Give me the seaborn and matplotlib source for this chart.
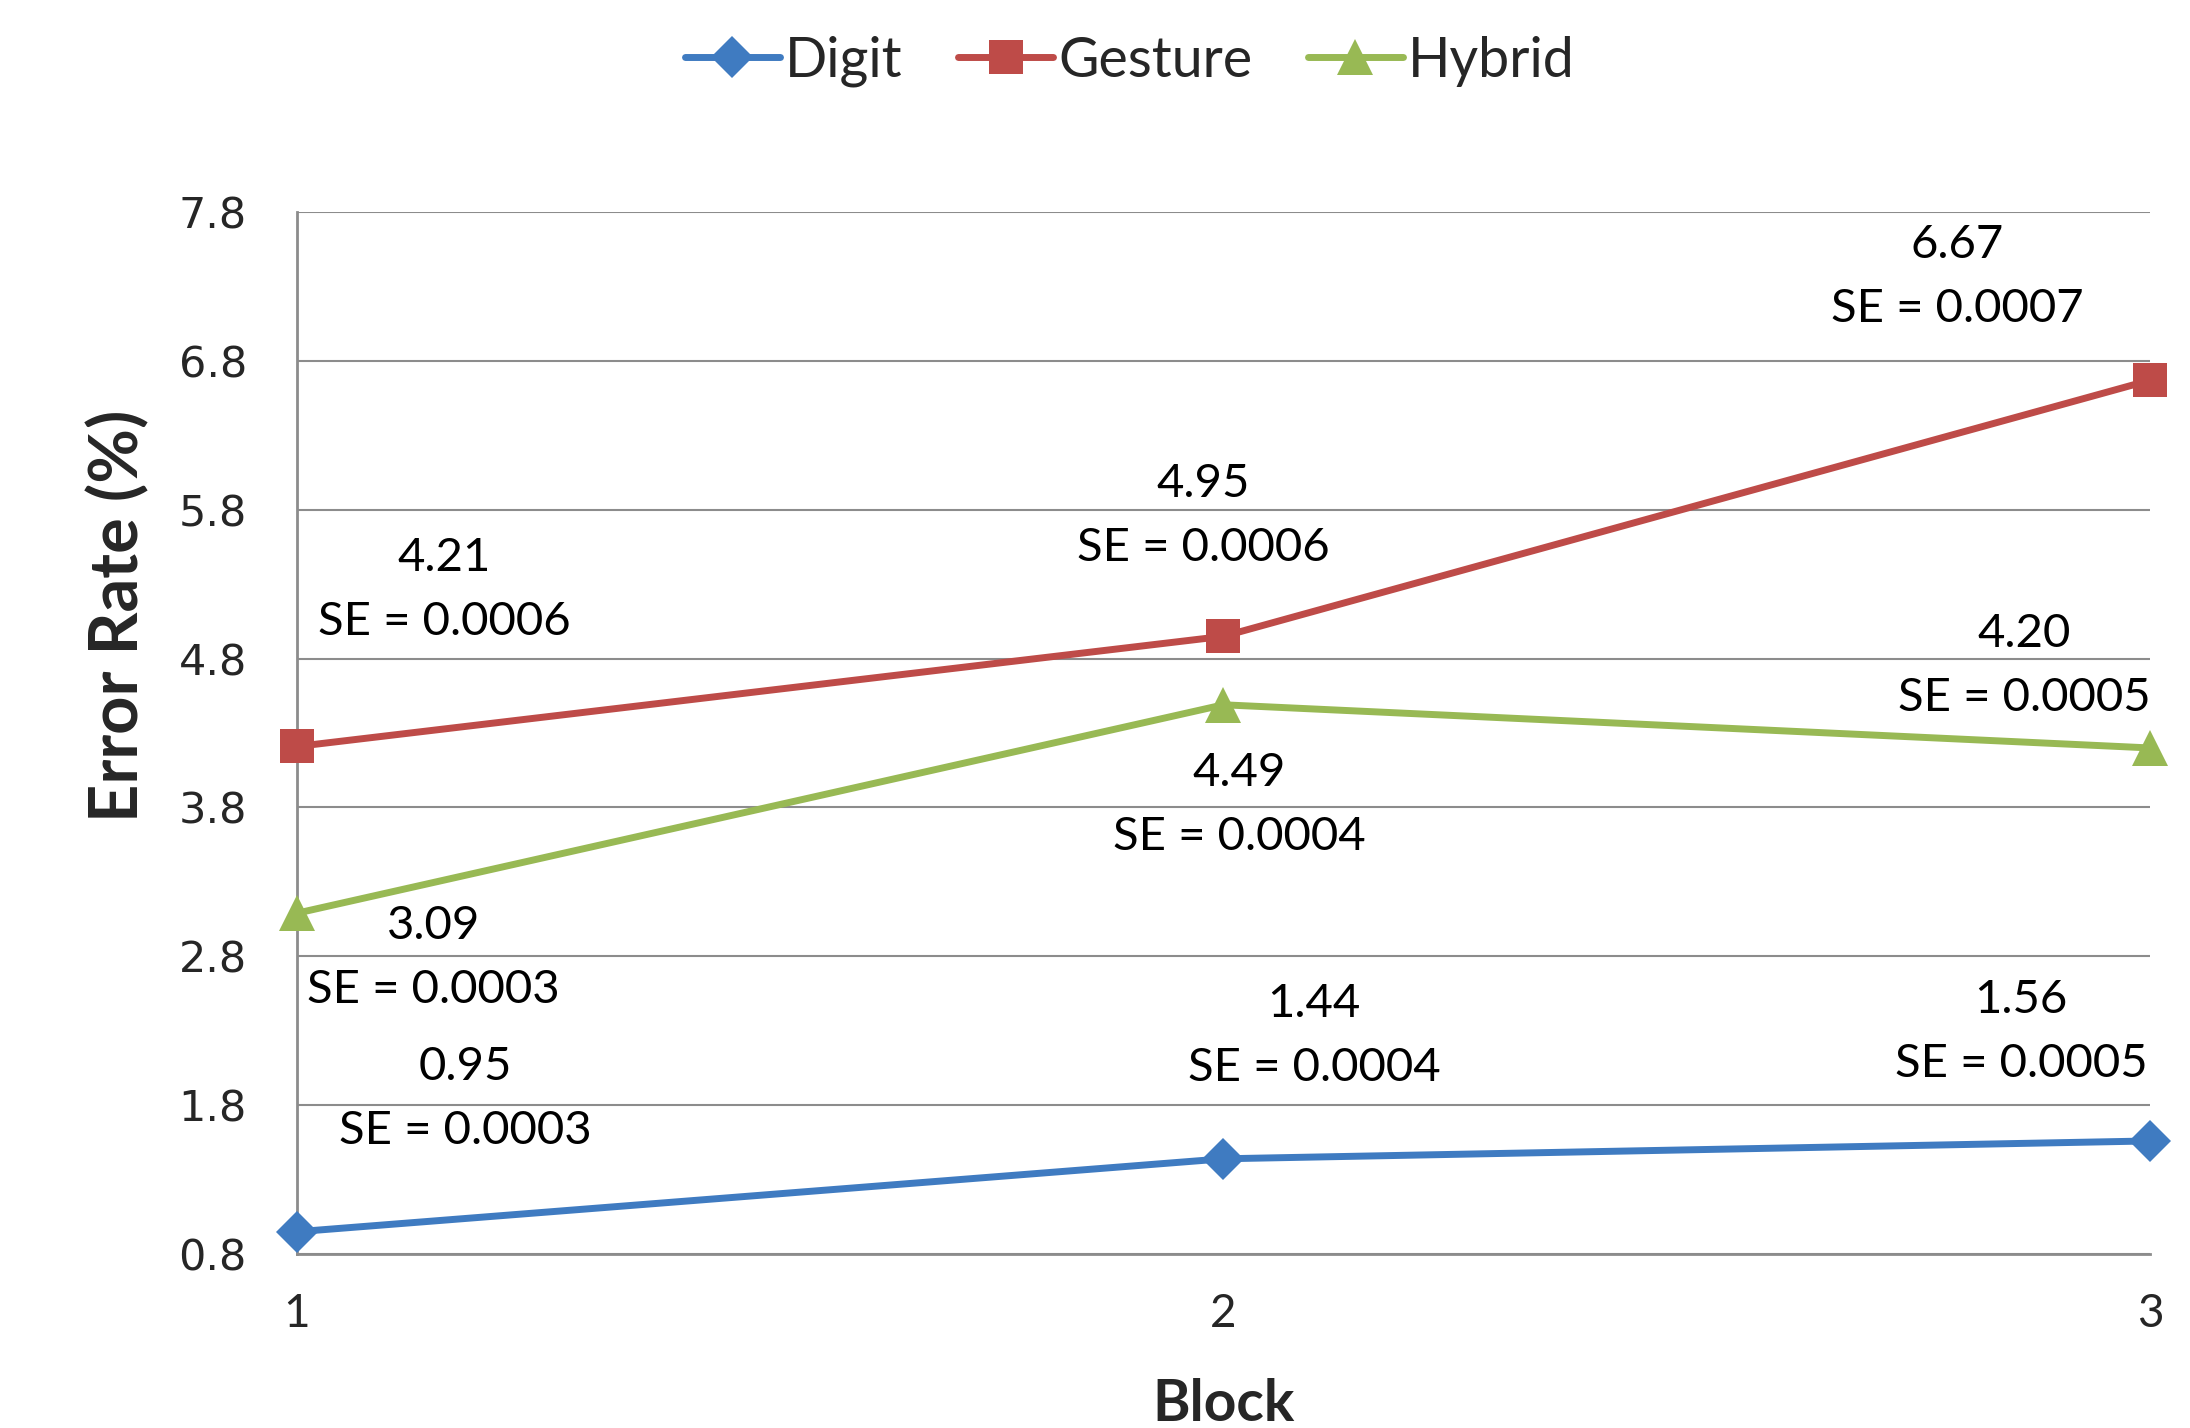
import matplotlib
matplotlib.use("Agg")
import matplotlib.pyplot as plt
import seaborn as sns
import pandas as pd
from matplotlib.lines import Line2D

blocks = [1, 2, 3]
digit = [0.95, 1.44, 1.56]
gesture = [4.21, 4.95, 6.67]
hybrid = [3.09, 4.49, 4.20]
digit_se = ["0.0003", "0.0004", "0.0005"]
gesture_se = ["0.0006", "0.0006", "0.0007"]
hybrid_se = ["0.0003", "0.0004", "0.0005"]
series_names = ["Digit", "Gesture", "Hybrid"]
y_ticks = [0.8, 1.8, 2.8, 3.8, 4.8, 5.8, 6.8, 7.8]

# label offsets (data units) relative to each point
digit_off = [(0.182, 0.89), (0.098, 0.827), (-0.139, 0.734)]
gesture_off = [(0.159, 1.05), (-0.022, 0.806), (-0.208, 0.695)]
hybrid_off = [(0.147, -0.299), (0.017, -0.675), (-0.136, 0.552)]

colors = {"Digit": "#3F7BC1", "Gesture": "#BE4B48", "Hybrid": "#98B954"}
markers = {"Digit": "D", "Gesture": "s", "Hybrid": "^"}
msizes = {"Digit": 21, "Gesture": 24, "Hybrid": 26}

sns.set_theme(style="white")
plt.rcParams["font.family"] = ["DejaVu Sans"]

df = pd.DataFrame({
    "Block": blocks * 3,
    "Error": digit + gesture + hybrid,
    "Series": [s for s in series_names for _ in blocks],
})

fig = plt.figure(figsize=(21.9, 14.28), dpi=100)
ax = fig.add_axes([0.1356, 0.1218, 0.8461, 0.7297])

sns.lineplot(data=df, x="Block", y="Error", hue="Series", style="Series",
             markers=markers, dashes=False, palette=colors, ax=ax,
             linewidth=5, markersize=20, markeredgewidth=0, legend=False)
inv = {v: k for k, v in markers.items()}
for line in ax.get_lines():
    m = line.get_marker()
    if m in inv:
        line.set_markersize(msizes[inv[m]])
    line.set_clip_on(False)
    line.set_zorder(5)

ax.set_xlim(1, 3)
ax.set_ylim(0.8, 7.8)
ax.set_xticks(blocks)
ax.set_yticks(y_ticks)
ax.set_yticklabels([f"{v:.1f}" for v in y_ticks], fontsize=31, family="DejaVu Sans")
ax.set_xticklabels([str(b) for b in blocks], fontsize=33, family="Lato")
ax.tick_params(axis="y", length=0, pad=36)
ax.tick_params(axis="x", length=0, pad=28)
ax.yaxis.grid(True, color="#8C8C8C", linewidth=1.5)
ax.xaxis.grid(False)
for side in ["top", "right"]:
    ax.spines[side].set_visible(False)
for side in ["left", "bottom"]:
    ax.spines[side].set_color("#8C8C8C")
    ax.spines[side].set_linewidth(2)

ax.set_xlabel("Block", fontsize=41, fontweight="bold", family="Lato", va="center")
ax.set_ylabel("Error Rate (%)", fontsize=48, fontweight="bold", family="Lato", va="center")
ax.xaxis.set_label_coords(0.5, -0.144)
ax.yaxis.set_label_coords(-0.096, 0.613)

def annotate(vals, ses, offs):
    for b, v, se, (dx, dy) in zip(blocks, vals, ses, offs):
        ax.text(b + dx, v + dy, f"{v:.2f}\nSE = {se}", ha="center", va="center",
                fontsize=34, family="Lato", linespacing=1.65, color="black", clip_on=False)

annotate(digit, digit_se, digit_off)
annotate(gesture, gesture_se, gesture_off)
annotate(hybrid, hybrid_se, hybrid_off)

handles = [Line2D([0], [0], color=colors[s], marker=markers[s], linewidth=5,
                  markersize=msizes[s], markeredgewidth=0) for s in series_names]
fig.legend(handles, series_names, loc="center", bbox_to_anchor=(0.516, 0.957), ncol=3,
           frameon=False, prop={"family": "Lato", "size": 40}, handlelength=1.7,
           handletextpad=0.1, columnspacing=1.0)

fig.savefig("out.png", dpi=100)
